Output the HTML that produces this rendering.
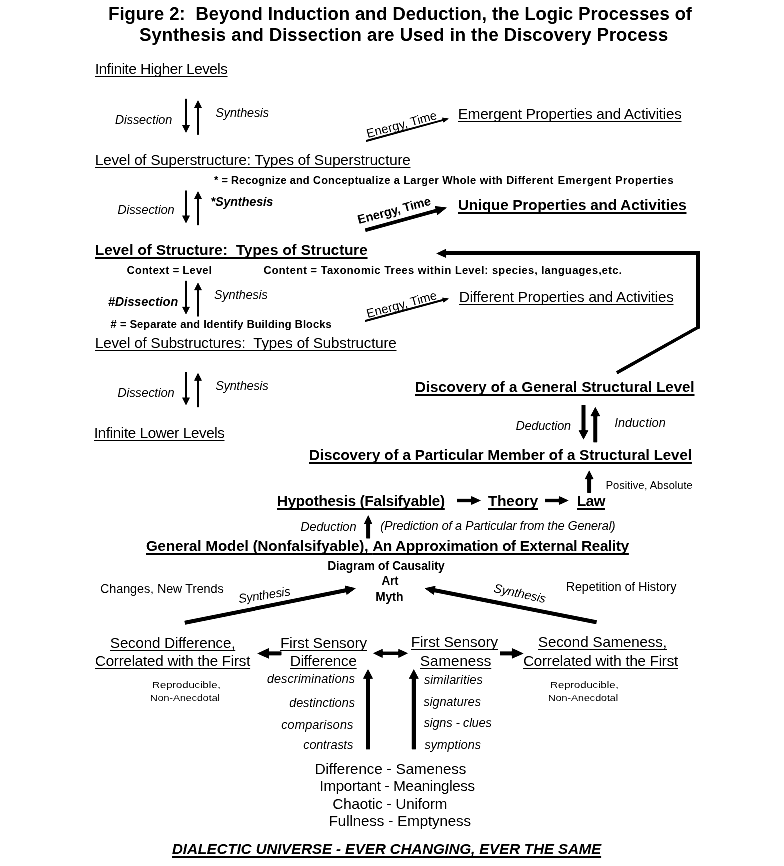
<!DOCTYPE html>
<html><head><meta charset="utf-8"><title>Figure 2</title>
<style>
html,body{margin:0;padding:0;background:#fff;}
html{filter:grayscale(1) contrast(1.5);}
body{width:784px;height:866px;position:relative;overflow:hidden;font-family:"Liberation Sans",sans-serif;color:#000;}
.t{position:absolute;white-space:pre;line-height:1;}
.b{font-weight:bold}.i{font-style:italic}
.u{text-decoration:underline;text-decoration-thickness:1px;text-underline-offset:2px;text-decoration-skip-ink:none}
.bu{text-decoration-thickness:2px;text-underline-offset:2px}
svg{position:absolute;left:0;top:0}
svg line,svg polyline{stroke:#000;fill:none}svg polygon{fill:#000}
</style></head><body>
<div class="t b" style="left:108.30px;top:4.55px;font-size:18.25px;letter-spacing:0.009px;">Figure 2:&nbsp; Beyond Induction and Deduction, the Logic Processes of</div>
<div class="t b" style="left:139.30px;top:25.55px;font-size:18.25px;letter-spacing:0.059px;">Synthesis and Dissection are Used in the Discovery Process</div>
<div class="t u" style="left:95.00px;top:61.30px;font-size:15px;letter-spacing:-0.344px;">Infinite Higher Levels</div>
<div class="t i" style="left:114.98px;top:114.32px;font-size:12.5px;letter-spacing:-0.046px;">Dissection</div>
<div class="t i" style="left:215.50px;top:107.32px;font-size:12.5px;letter-spacing:-0.088px;">Synthesis</div>
<div class="t u" style="left:458.00px;top:106.30px;font-size:15px;letter-spacing:-0.170px;">Emergent Properties and Activities</div>
<div class="t u" style="left:95.00px;top:152.30px;font-size:15px;letter-spacing:-0.144px;">Level of Superstructure: Types of Superstructure</div>
<div class="t b" style="left:213.96px;top:174.69px;font-size:11px;letter-spacing:0.072px;">* = Recognize and</div>
<div class="t b" style="left:312.98px;top:174.69px;font-size:11px;letter-spacing:0.228px;">Conceptualize a Larger</div>
<div class="t b" style="left:442.22px;top:174.69px;font-size:11px;letter-spacing:0.255px;">Whole with Different</div>
<div class="t b" style="left:557.76px;top:174.69px;font-size:11px;letter-spacing:0.420px;">Emergent Properties</div>
<div class="t i" style="left:117.50px;top:204.32px;font-size:12.5px;letter-spacing:-0.075px;">Dissection</div>
<div class="t b i" style="left:210.54px;top:196.32px;font-size:12.5px;letter-spacing:-0.127px;">*Synthesis</div>
<div class="t b u bu" style="left:458.00px;top:197.30px;font-size:15px;letter-spacing:-0.058px;">Unique Properties and Activities</div>
<div class="t b u bu" style="left:95.00px;top:242.30px;font-size:15px;letter-spacing:0.006px;">Level of Structure:&nbsp; Types of Structure</div>
<div class="t b" style="left:126.74px;top:264.69px;font-size:11px;letter-spacing:0.241px;">Context = Level</div>
<div class="t b" style="left:263.50px;top:264.69px;font-size:11px;letter-spacing:0.314px;">Content = Taxonomic Trees within Level: species, languages,etc.</div>
<div class="t b i" style="left:108.02px;top:296.32px;font-size:12.5px;letter-spacing:-0.013px;">#Dissection</div>
<div class="t i" style="left:214.02px;top:289.32px;font-size:12.5px;letter-spacing:-0.053px;">Synthesis</div>
<div class="t b" style="left:110.50px;top:318.69px;font-size:11px;letter-spacing:0.123px;"># = Separate and Identify Building Blocks</div>
<div class="t u" style="left:459.00px;top:289.30px;font-size:15px;letter-spacing:-0.176px;">Different Properties and Activities</div>
<div class="t u" style="left:95.00px;top:335.30px;font-size:15px;letter-spacing:-0.128px;">Level of Substructures:&nbsp; Types of Substructure</div>
<div class="t i" style="left:117.50px;top:387.32px;font-size:12.5px;letter-spacing:-0.075px;">Dissection</div>
<div class="t i" style="left:215.50px;top:380.32px;font-size:12.5px;letter-spacing:-0.150px;">Synthesis</div>
<div class="t u" style="left:94.00px;top:425.30px;font-size:15px;letter-spacing:-0.298px;">Infinite Lower Levels</div>
<div class="t" style="left:367.60px;top:128.02px;font-size:12.5px;letter-spacing:-0.020px;transform-origin:0 10.58px;transform:rotate(-15.2deg);">Energy, Time</div>
<div class="t b" style="left:358.80px;top:214.22px;font-size:12.5px;letter-spacing:-0.186px;transform-origin:0 10.58px;transform:rotate(-14.9deg);">Energy, Time</div>
<div class="t" style="left:367.60px;top:307.82px;font-size:12.5px;letter-spacing:-0.020px;transform-origin:0 10.58px;transform:rotate(-15.2deg);">Energy, Time</div>
<div class="t b u bu" style="left:415.00px;top:379.30px;font-size:15px;letter-spacing:-0.016px;">Discovery of a General Structural Level</div>
<div class="t i" style="left:515.74px;top:420.32px;font-size:12.5px;letter-spacing:-0.135px;">Deduction</div>
<div class="t i" style="left:614.52px;top:417.32px;font-size:12.5px;letter-spacing:0.068px;">Induction</div>
<div class="t b u bu" style="left:309.00px;top:447.30px;font-size:15px;letter-spacing:-0.059px;">Discovery of a Particular Member of a Structural Level</div>
<div class="t" style="left:605.78px;top:479.69px;font-size:11px;">Positive, Absolute</div>
<div class="t b u bu" style="left:277.00px;top:493.30px;font-size:15px;letter-spacing:-0.202px;">Hypothesis (Falsifyable)</div>
<div class="t b u bu" style="left:488.00px;top:493.30px;font-size:15px;">Theory</div>
<div class="t b u bu" style="left:577.00px;top:493.30px;font-size:15px;letter-spacing:-0.396px;">Law</div>
<div class="t i" style="left:300.50px;top:521.32px;font-size:12.5px;letter-spacing:-0.037px;">Deduction</div>
<div class="t i" style="left:380.24px;top:520.32px;font-size:12.5px;letter-spacing:-0.149px;">(Prediction of a Particular from the General)</div>
<div class="t b u bu" style="left:146.00px;top:538.30px;font-size:15px;letter-spacing:-0.062px;">General Model (Nonfalsifyable), </div>
<div class="t b u bu" style="left:372.40px;top:538.30px;font-size:15px;letter-spacing:-0.225px;">An Approximation of External Reality</div>
<div class="t b" style="left:327.50px;top:559.84px;font-size:12px;letter-spacing:-0.112px;">Diagram of Causality</div>
<div class="t b" style="left:381.50px;top:574.84px;font-size:12px;letter-spacing:-0.172px;">Art</div>
<div class="t b" style="left:375.50px;top:590.84px;font-size:12px;letter-spacing:-0.073px;">Myth</div>
<div class="t" style="left:100.24px;top:583.32px;font-size:12.5px;letter-spacing:-0.010px;">Changes, New Trends</div>
<div class="t" style="left:566.02px;top:581.32px;font-size:12.5px;letter-spacing:-0.102px;">Repetition of History</div>
<div class="t i" style="left:238.90px;top:592.92px;font-size:12.5px;letter-spacing:-0.213px;transform-origin:0 10.58px;transform:rotate(-8.5deg);">Synthesis</div>
<div class="t i" style="left:493.00px;top:582.02px;font-size:12.5px;letter-spacing:-0.150px;transform-origin:0 10.58px;transform:rotate(12deg);">Synthesis</div>
<div class="t u" style="left:110.00px;top:635.30px;font-size:15px;letter-spacing:-0.112px;">Second Difference,</div>
<div class="t u" style="left:95.00px;top:653.30px;font-size:15px;letter-spacing:-0.161px;">Correlated with the First</div>
<div class="t u" style="left:280.20px;top:635.30px;font-size:15px;letter-spacing:-0.120px;">First Sensory</div>
<div class="t u" style="left:290.00px;top:653.30px;font-size:15px;letter-spacing:-0.149px;">Difference</div>
<div class="t u" style="left:411.00px;top:634.30px;font-size:15px;letter-spacing:-0.105px;">First Sensory</div>
<div class="t u" style="left:420.00px;top:653.30px;font-size:15px;letter-spacing:0.053px;">Sameness</div>
<div class="t u" style="left:538.00px;top:634.30px;font-size:15px;letter-spacing:-0.080px;">Second Sameness,</div>
<div class="t u" style="left:523.20px;top:653.30px;font-size:15px;letter-spacing:-0.177px;">Correlated with the First</div>
<div class="t" style="left:151.80px;top:679.87px;font-size:9.6px;transform-origin:0 0;transform:scaleX(1.1575);">Reproducible,</div>
<div class="t" style="left:149.80px;top:692.87px;font-size:9.6px;transform-origin:0 0;transform:scaleX(1.1015);">Non-Anecdotal</div>
<div class="t" style="left:550.02px;top:679.87px;font-size:9.6px;transform-origin:0 0;transform:scaleX(1.1575);">Reproducible,</div>
<div class="t" style="left:547.54px;top:692.87px;font-size:9.6px;transform-origin:0 0;transform:scaleX(1.1047);">Non-Anecdotal</div>
<div class="t i" style="left:267.02px;top:673.32px;font-size:12.5px;letter-spacing:0.084px;">descriminations</div>
<div class="t i" style="left:289.24px;top:697.32px;font-size:12.5px;letter-spacing:-0.025px;">destinctions</div>
<div class="t i" style="left:281.24px;top:719.32px;font-size:12.5px;letter-spacing:0.113px;">comparisons</div>
<div class="t i" style="left:303.24px;top:739.32px;font-size:12.5px;letter-spacing:-0.090px;">contrasts</div>
<div class="t i" style="left:423.98px;top:674.32px;font-size:12.5px;letter-spacing:0.034px;">similarities</div>
<div class="t i" style="left:423.50px;top:696.32px;font-size:12.5px;letter-spacing:-0.019px;">signatures</div>
<div class="t i" style="left:423.74px;top:717.32px;font-size:12.5px;letter-spacing:-0.125px;">signs - clues</div>
<div class="t i" style="left:424.50px;top:739.32px;font-size:12.5px;letter-spacing:0.030px;">symptions</div>
<div class="t" style="left:314.78px;top:761.30px;font-size:15px;letter-spacing:-0.038px;">Difference - Sameness</div>
<div class="t" style="left:319.54px;top:778.30px;font-size:15px;letter-spacing:-0.244px;">Important - Meaningless</div>
<div class="t" style="left:332.54px;top:796.30px;font-size:15px;letter-spacing:-0.118px;">Chaotic - Uniform</div>
<div class="t" style="left:328.78px;top:813.30px;font-size:15px;letter-spacing:-0.057px;">Fullness - Emptyness</div>
<div class="t b i u bu" style="left:172.00px;top:841.30px;font-size:15px;letter-spacing:-0.051px;">DIALECTIC UNIVERSE - EVER CHANGING, EVER THE SAME</div>
<svg width="784" height="866" viewBox="0 0 784 866">
<line x1="186.0" y1="98.8" x2="186.0" y2="126.2" stroke-width="2"/>
<polygon points="186.0,133.0 182.0,125.0 190.0,125.0"/>
<line x1="198.0" y1="134.8" x2="198.0" y2="106.7" stroke-width="2"/>
<polygon points="198.0,99.9 202.0,107.9 194.0,107.9"/>
<line x1="186.0" y1="190.5" x2="186.0" y2="216.7" stroke-width="2"/>
<polygon points="186.0,223.5 182.0,215.5 190.0,215.5"/>
<line x1="198.0" y1="225.3" x2="198.0" y2="197.8" stroke-width="2"/>
<polygon points="198.0,191.0 202.0,199.0 194.0,199.0"/>
<line x1="186.0" y1="280.8" x2="186.0" y2="308.0" stroke-width="2"/>
<polygon points="186.0,314.8 182.0,306.8 190.0,306.8"/>
<line x1="198.0" y1="316.6" x2="198.0" y2="289.0" stroke-width="2"/>
<polygon points="198.0,282.2 202.0,290.2 194.0,290.2"/>
<line x1="186.0" y1="372.0" x2="186.0" y2="398.7" stroke-width="2"/>
<polygon points="186.0,405.5 182.0,397.5 190.0,397.5"/>
<line x1="198.0" y1="407.2" x2="198.0" y2="379.6" stroke-width="2"/>
<polygon points="198.0,372.8 202.0,380.8 194.0,380.8"/>
<line x1="366.0" y1="141.0" x2="443.7" y2="119.9" stroke-width="2"/>
<polygon points="449.0,118.4 443.5,122.8 442.0,117.5"/>
<line x1="365.2" y1="230.2" x2="437.7" y2="210.2" stroke-width="3.7"/>
<polygon points="447.1,207.6 437.3,215.3 434.7,206.0"/>
<line x1="365.0" y1="321.0" x2="443.8" y2="299.8" stroke-width="2"/>
<polygon points="449.1,298.4 443.5,302.7 442.1,297.4"/>
<line x1="583.5" y1="405.0" x2="583.5" y2="431.6" stroke-width="4"/>
<polygon points="583.5,439.8 578.5,430.2 588.5,430.2"/>
<line x1="595.3" y1="442.4" x2="595.3" y2="414.9" stroke-width="4"/>
<polygon points="595.3,406.7 600.3,416.3 590.3,416.3"/>
<line x1="589.2" y1="492.9" x2="589.2" y2="477.8" stroke-width="4"/>
<polygon points="589.2,470.2 593.7,479.2 584.7,479.2"/>
<line x1="457.0" y1="500.5" x2="472.6" y2="500.5" stroke-width="3.5"/>
<polygon points="481.1,500.5 471.1,505.0 471.1,496.0"/>
<line x1="545.0" y1="500.5" x2="560.4" y2="500.5" stroke-width="3.5"/>
<polygon points="568.9,500.5 558.9,505.0 558.9,496.0"/>
<line x1="368.2" y1="538.5" x2="368.2" y2="522.6" stroke-width="4"/>
<polygon points="368.2,515.0 372.4,524.0 363.9,524.0"/>
<line x1="184.7" y1="622.8" x2="347.3" y2="590.0" stroke-width="4"/>
<polygon points="356.0,588.2 346.6,594.9 344.8,585.6"/>
<line x1="596.6" y1="622.2" x2="433.2" y2="590.0" stroke-width="4"/>
<polygon points="424.4,588.3 435.6,585.7 433.8,595.0"/>
<line x1="281.5" y1="653.4" x2="267.2" y2="653.4" stroke-width="4"/>
<polygon points="257.0,653.4 269.0,648.0 269.0,658.8"/>
<line x1="381.2" y1="653.3" x2="399.8" y2="653.3" stroke-width="3.5"/>
<polygon points="408.1,653.3 398.3,657.9 398.3,648.7"/>
<polygon points="372.9,653.3 382.7,657.9 382.7,648.7"/>
<line x1="500.0" y1="653.4" x2="513.6" y2="653.4" stroke-width="4"/>
<polygon points="523.8,653.4 511.8,658.8 511.8,648.0"/>
<line x1="368.0" y1="749.4" x2="368.0" y2="677.2" stroke-width="4.2"/>
<polygon points="368.0,669.0 373.1,678.7 362.9,678.7"/>
<line x1="413.8" y1="749.4" x2="413.8" y2="677.2" stroke-width="4.2"/>
<polygon points="413.8,669.0 418.9,678.7 408.7,678.7"/>
<polyline points="698,328.5 698,253 445,253" stroke-width="4" stroke-linejoin="miter"/>
<line x1="616.8" y1="372.7" x2="699.2" y2="326.6" stroke-width="3.3"/>
<polygon points="436,253.4 446.2,248.8 446.2,258"/>
</svg>
</body></html>
